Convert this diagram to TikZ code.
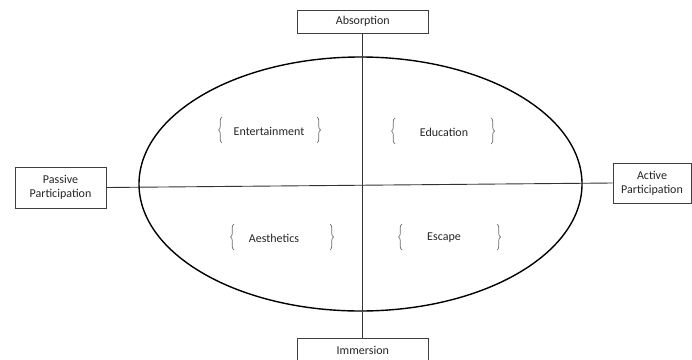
\documentclass[tikz,border=0pt]{standalone}
\usepackage{fontspec}
\setmainfont{Carlito}
\usetikzlibrary{decorations.pathreplacing}
\definecolor{txt}{HTML}{262626}
\definecolor{boxline}{HTML}{404040}
\definecolor{bracecol}{HTML}{6E6E6E}
\tikzset{
  lab/.style={draw=boxline, line width=0.9pt, fill=white, font=\fontsize{12}{14}\selectfont, text=txt, align=center, inner sep=0pt},
  inner/.style={font=\fontsize{12}{14}\selectfont, text=txt, inner sep=0pt},
  br/.style={draw=bracecol, line width=0.7pt, decorate, decoration={brace, amplitude=3.5pt, aspect=0.5}},
  axis/.style={draw=black!80, line width=0.9pt}
}
\begin{document}
\begin{tikzpicture}[x=1pt,y=-1pt]
\useasboundingbox (0,0) rectangle (692,359);
\fill[white] (0,0) rectangle (692,359);
% ellipse
\draw[line width=1.4pt, black] (360.5,184) ellipse [x radius=221.5, y radius=127];
% boxes
\node[lab, minimum width=131pt, minimum height=23pt] (abs) at (362.8,21.5) {Absorption};
\node[lab, minimum width=131pt, minimum height=24pt] (imm) at (362.8,350) {Immersion};
\node[lab, minimum width=91pt, minimum height=41pt] (pas) at (60.5,187.5) {Passive\\Participation};
\node[lab, minimum width=78pt, minimum height=40pt] (act) at (652,183) {Active\\Participation};
% axes
\draw[axis] (abs.south) -- (imm.north);
\draw[axis] (pas.east) -- (act.west);
% inner labels
\node[inner] (ent) at (269,131) {Entertainment};
\node[inner] (edu) at (444,132) {Education};
\node[inner] (aes) at (274,238) {Aesthetics};
\node[inner] (esc) at (444,238) {Escape};
% braces
\coordinate (entL1) at (222,143); \coordinate (entL2) at (222,117);
\coordinate (entR1) at (317,117); \coordinate (entR2) at (317,143);
\coordinate (eduL1) at (395,144); \coordinate (eduL2) at (395,118);
\coordinate (eduR1) at (491,118); \coordinate (eduR2) at (491,144);
\coordinate (aesL1) at (234,250); \coordinate (aesL2) at (234,224);
\coordinate (aesR1) at (330,224); \coordinate (aesR2) at (330,250);
\coordinate (escL1) at (402,250); \coordinate (escL2) at (402,224);
\coordinate (escR1) at (497,224); \coordinate (escR2) at (497,250);
\draw[br] (entL1) -- (entL2);
\draw[br] (entR1) -- (entR2);
\draw[br] (eduL1) -- (eduL2);
\draw[br] (eduR1) -- (eduR2);
\draw[br] (aesL1) -- (aesL2);
\draw[br] (aesR1) -- (aesR2);
\draw[br] (escL1) -- (escL2);
\draw[br] (escR1) -- (escR2);
\end{tikzpicture}
\end{document}
